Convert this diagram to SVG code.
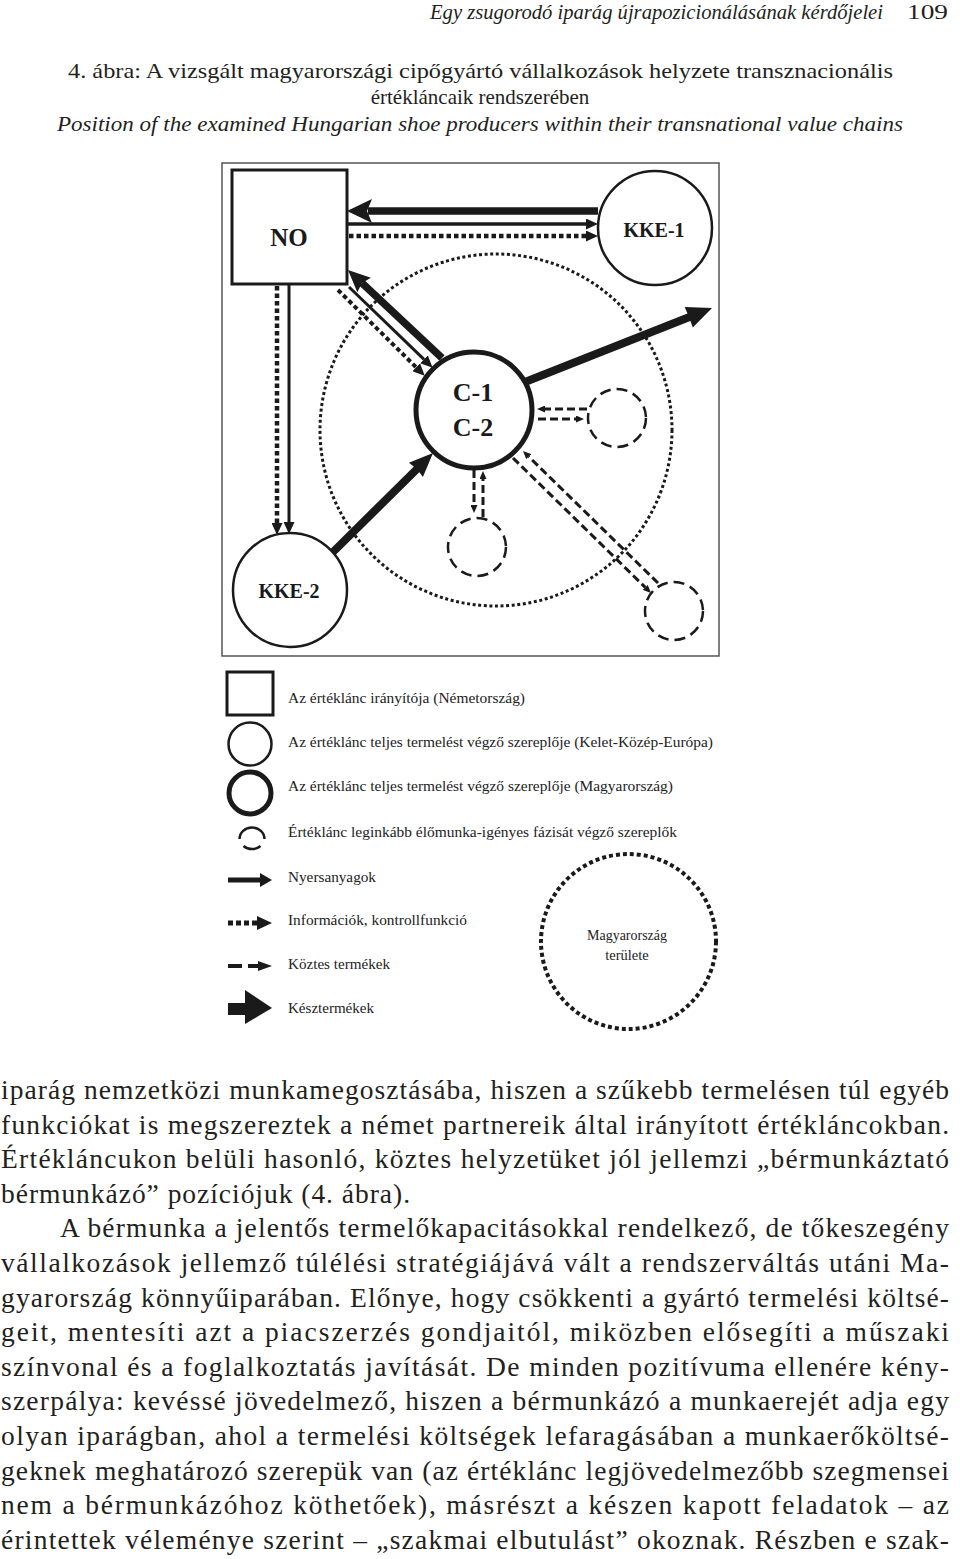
<svg xmlns="http://www.w3.org/2000/svg" width="960" height="1559" viewBox="0 0 960 1559">
<style>
.bg{fill:#fff}
.frame{fill:none;stroke:#555;stroke-width:1.5}
.lbl{font-family:"Liberation Serif","Times New Roman",serif;font-weight:bold;fill:#1a1a1a;text-anchor:middle}
.leg{font-family:"Liberation Serif","Times New Roman",serif;font-size:14.5px;fill:#222}
.body{font-family:"Liberation Serif","Times New Roman",serif;font-size:27.5px;fill:#231f20}
.cap{font-family:"Liberation Serif","Times New Roman",serif;font-size:21px;fill:#231f20}
.node{fill:#fff;stroke:#1a1a1a}
.solid{fill:none;stroke:#1a1a1a}
.dot{fill:none;stroke:#1a1a1a;stroke-dasharray:4.5 3}
.dash{fill:none;stroke:#1a1a1a;stroke-width:3;stroke-dasharray:8 4}
.dcirc{fill:none;stroke:#1a1a1a;stroke-width:2.5;stroke-dasharray:11 6}
.head{fill:#1a1a1a;stroke:none}
</style>
<defs>
<marker id="mkM" markerUnits="userSpaceOnUse" viewBox="0 0 12 11" markerWidth="12" markerHeight="11" refX="0" refY="5.5" orient="auto"><path d="M0,0 L12,5.5 L0,11 z" fill="#1a1a1a"/></marker>
<marker id="mkS" markerUnits="userSpaceOnUse" viewBox="0 0 8 7" markerWidth="8" markerHeight="7" refX="0" refY="3.5" orient="auto"><path d="M0,0 L8,3.5 L0,7 z" fill="#1a1a1a"/></marker>
</defs>
<rect class="bg" x="0" y="0" width="960" height="1559"/>

<g id="header">
<text class="cap" x="430" y="19" font-size="19" font-style="italic" textLength="453" lengthAdjust="spacingAndGlyphs">Egy zsugorodó iparág újrapozicionálásának kérdőjelei</text>
<text class="cap" x="907" y="19" font-size="19" textLength="41" lengthAdjust="spacingAndGlyphs">109</text>
<text class="cap" x="68" y="78" textLength="825" lengthAdjust="spacingAndGlyphs">4. ábra: A vizsgált magyarországi cipőgyártó vállalkozások helyzete transznacionális</text>
<text class="cap" x="480" y="104" text-anchor="middle">értékláncaik rendszerében</text>
<text class="cap" x="57" y="131" font-style="italic" textLength="846" lengthAdjust="spacingAndGlyphs">Position of the examined Hungarian shoe producers within their transnational value chains</text>
</g>

<rect class="frame" x="222" y="163" width="497" height="493"/>
<circle id="hu-area" cx="496" cy="430" r="176" fill="none" stroke="#1a1a1a" stroke-width="3" stroke-dasharray="3 2.6"/>

<g id="connectors">
<line class="solid" x1="598" y1="211" x2="368" y2="211" stroke-width="7.5"/>
<polygon class="head" points="347,211 372,199 367,211 372,223"/>
<line class="solid" x1="347" y1="224" x2="586" y2="224" stroke-width="3.5" marker-end="url(#mkM)"/>
<line class="dot" x1="349" y1="236" x2="586" y2="236" stroke-width="4.5" marker-end="url(#mkM)"/>
<line class="solid" x1="289" y1="284" x2="289" y2="522" stroke-width="3" marker-end="url(#mkM)"/>
<line class="dot" x1="277" y1="286" x2="277" y2="523" stroke-width="4.5" marker-end="url(#mkM)"/>
<line class="solid" x1="442" y1="358" x2="362" y2="283" stroke-width="7.5"/>
<polygon class="head" points="348,270 370.9,277.7 362,283 357.3,292.3"/>
<line class="solid" x1="349" y1="287" x2="424" y2="359.4" stroke-width="3" marker-end="url(#mkM)"/>
<line class="dot" x1="338" y1="290" x2="416.2" y2="367.3" stroke-width="4" marker-end="url(#mkM)"/>
<line class="solid" x1="332" y1="553" x2="419" y2="467" stroke-width="8"/>
<polygon class="head" points="433,453 422.9,477 417,469 408.9,462.8"/>
<line class="solid" x1="525" y1="382" x2="692" y2="316" stroke-width="8"/>
<polygon class="head" points="712,308 692.8,327.4 689,317 684.7,307"/>
<line class="dash" x1="587" y1="409" x2="545" y2="409" marker-end="url(#mkS)"/>
<line class="dash" x1="538" y1="419" x2="576" y2="419" marker-end="url(#mkS)"/>
<line class="dash" x1="474" y1="470" x2="474" y2="505" marker-end="url(#mkS)"/>
<line class="dash" x1="483" y1="517" x2="483" y2="479" marker-end="url(#mkS)"/>
<line class="dash" x1="658" y1="583" x2="528.7" y2="456.6" marker-end="url(#mkS)"/>
<line class="dash" x1="513" y1="458" x2="645.3" y2="587.4" marker-end="url(#mkS)"/>
</g>

<g id="NO">
<rect class="node" x="232" y="170" width="115" height="114" stroke-width="3"/>
<text class="lbl" x="289" y="246" font-size="25">NO</text>
</g>
<g id="KKE-1">
<circle class="node" cx="655" cy="228" r="57" stroke-width="2.5"/>
<text class="lbl" x="654" y="237" font-size="20">KKE-1</text>
</g>
<g id="C">
<circle class="node" cx="474" cy="410" r="58" stroke-width="5"/>
<text class="lbl" x="473" y="401" font-size="26">C-1</text>
<text class="lbl" x="473" y="436" font-size="26">C-2</text>
</g>
<g id="KKE-2">
<circle class="node" cx="290" cy="590" r="57" stroke-width="2.5"/>
<text class="lbl" x="289" y="598" font-size="20">KKE-2</text>
</g>
<g id="sub-1"><circle class="dcirc" cx="617" cy="418" r="29"/></g>
<g id="sub-2"><circle class="dcirc" cx="477" cy="547" r="29"/></g>
<g id="sub-3"><circle class="dcirc" cx="674" cy="611" r="29"/></g>

<g id="legend">
<rect x="227" y="672" width="46" height="43" fill="none" stroke="#1a1a1a" stroke-width="3"/>
<text class="leg" x="288" y="703" textLength="237" lengthAdjust="spacingAndGlyphs">Az értéklánc irányítója (Németország)</text>
<circle cx="250" cy="744" r="21.5" fill="none" stroke="#1a1a1a" stroke-width="2.5"/>
<text class="leg" x="288" y="747" textLength="425" lengthAdjust="spacingAndGlyphs">Az értéklánc teljes termelést végző szereplője (Kelet-Közép-Európa)</text>
<circle cx="250" cy="793" r="21" fill="none" stroke="#1a1a1a" stroke-width="5"/>
<text class="leg" x="288" y="791" textLength="385" lengthAdjust="spacingAndGlyphs">Az értéklánc teljes termelést végző szereplője (Magyarország)</text>
<path d="M239.5,839 A12.5,11.5 0 0 1 264.5,839" fill="none" stroke="#1a1a1a" stroke-width="2.5"/>
<path d="M243.5,846 A12.5,11.5 0 0 0 260.5,846" fill="none" stroke="#1a1a1a" stroke-width="2.5"/>
<text class="leg" x="288" y="837" textLength="389" lengthAdjust="spacingAndGlyphs">Értéklánc leginkább élőmunka-igényes fázisát végző szereplők</text>

<line x1="228" y1="880" x2="261" y2="880" stroke="#1a1a1a" stroke-width="5"/>
<polygon class="head" points="272,880 260,873 260,887"/>
<text class="leg" x="288" y="882" textLength="88" lengthAdjust="spacingAndGlyphs">Nyersanyagok</text>

<line x1="228" y1="923" x2="258" y2="923" stroke="#1a1a1a" stroke-width="5" stroke-dasharray="5 3"/>
<polygon class="head" points="272,923 257,916 257,930"/>
<text class="leg" x="288" y="925" textLength="179" lengthAdjust="spacingAndGlyphs">Információk, kontrollfunkció</text>

<line x1="228" y1="966" x2="242" y2="966" stroke="#1a1a1a" stroke-width="4"/>
<line x1="248" y1="966" x2="260" y2="966" stroke="#1a1a1a" stroke-width="4"/>
<polygon class="head" points="272,966 258,961 258,971"/>
<text class="leg" x="288" y="969" textLength="102" lengthAdjust="spacingAndGlyphs">Köztes termékek</text>

<rect x="228" y="1003" width="19" height="12" fill="#1a1a1a"/>
<polygon class="head" points="272,1008 245,990 245,1024"/>
<text class="leg" x="288" y="1013" textLength="86" lengthAdjust="spacingAndGlyphs">Késztermékek</text>

<circle cx="628.5" cy="941.5" r="87.5" fill="none" stroke="#1a1a1a" stroke-width="4" stroke-dasharray="4 3"/>
<text class="leg" x="627" y="940" text-anchor="middle" textLength="80" lengthAdjust="spacingAndGlyphs">Magyarország</text>
<text class="leg" x="627" y="960" text-anchor="middle">területe</text>
</g>

<g id="body">
<text class="body" x="1" y="1099" textLength="948" lengthAdjust="spacing">iparág nemzetközi munkamegosztásába, hiszen a szűkebb termelésen túl egyéb</text>
<text class="body" x="1" y="1133.6" textLength="948" lengthAdjust="spacing">funkciókat is megszereztek a német partnereik által irányított értékláncokban.</text>
<text class="body" x="1" y="1168.2" textLength="948" lengthAdjust="spacing">Értékláncukon belüli hasonló, köztes helyzetüket jól jellemzi „bérmunkáztató</text>
<text class="body" x="1" y="1202.8" textLength="409" lengthAdjust="spacing">bérmunkázó” pozíciójuk (4. ábra).</text>
<text class="body" x="60" y="1237.4" textLength="889" lengthAdjust="spacing">A bérmunka a jelentős termelőkapacitásokkal rendelkező, de tőkeszegény</text>
<text class="body" x="1" y="1272" textLength="948" lengthAdjust="spacing">vállalkozások jellemző túlélési stratégiájává vált a rendszerváltás utáni Ma-</text>
<text class="body" x="1" y="1306.6" textLength="948" lengthAdjust="spacing">gyarország könnyűiparában. Előnye, hogy csökkenti a gyártó termelési költsé-</text>
<text class="body" x="1" y="1341.2" textLength="948" lengthAdjust="spacing">geit, mentesíti azt a piacszerzés gondjaitól, miközben elősegíti a műszaki</text>
<text class="body" x="1" y="1375.8" textLength="948" lengthAdjust="spacing">színvonal és a foglalkoztatás javítását. De minden pozitívuma ellenére kény-</text>
<text class="body" x="1" y="1410.4" textLength="948" lengthAdjust="spacing">szerpálya: kevéssé jövedelmező, hiszen a bérmunkázó a munkaerejét adja egy</text>
<text class="body" x="1" y="1445" textLength="948" lengthAdjust="spacing">olyan iparágban, ahol a termelési költségek lefaragásában a munkaerőköltsé-</text>
<text class="body" x="1" y="1479.6" textLength="948" lengthAdjust="spacing">geknek meghatározó szerepük van (az értéklánc legjövedelmezőbb szegmensei</text>
<text class="body" x="1" y="1514.2" textLength="948" lengthAdjust="spacing">nem a bérmunkázóhoz köthetőek), másrészt a készen kapott feladatok – az</text>
<text class="body" x="1" y="1548.8" textLength="948" lengthAdjust="spacing">érintettek véleménye szerint – „szakmai elbutulást” okoznak. Részben e szak-</text>
</g>
</svg>
